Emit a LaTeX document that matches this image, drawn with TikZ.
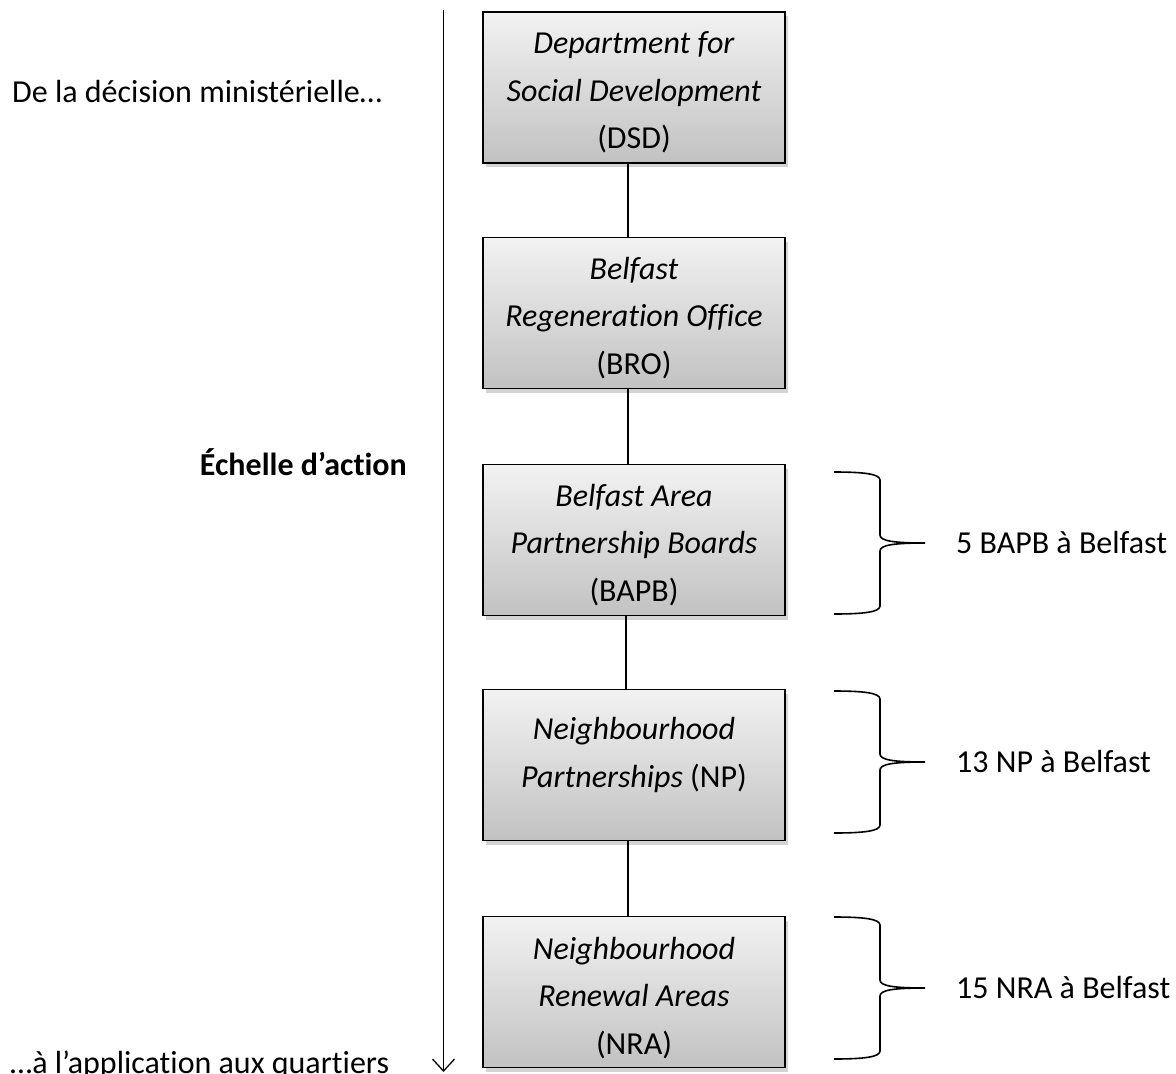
\documentclass[tikz,border=0pt]{standalone}
\usepackage{fontspec}
\setmainfont{Carlito}[Ligatures=NoCommon]
\usetikzlibrary{arrows.meta,shadows}
\begin{document}
\begin{tikzpicture}[x=1pt,y=-1pt,
  box/.style={draw=black, line width=1.8pt, minimum width=302pt, minimum height=151pt,
    inner sep=0pt, top color=white!95!black, bottom color=white!76!black,
    drop shadow={opacity=0.35, shadow xshift=3pt, shadow yshift=-4pt}},
  boxtext/.style={inner sep=0pt, align=center, font=\fontsize{32}{47.5}\selectfont},
  lbl/.style={font=\fontsize{32}{38}\selectfont, inner sep=0pt},
  link/.style={line width=1.6pt},
  bracepic/.pic={\draw[line width=1.6pt] (0,0) .. controls (30,0) and (46,2) .. (46,8) -- (46,63)
     .. controls (46,69) and (60,71) .. (91,71) .. controls (60,71) and (46,73) .. (46,79)
     -- (46,134) .. controls (46,140) and (30,142) .. (0,142);}
]
\useasboundingbox (0,0) rectangle (1176,1074);

% vertical arrow
\coordinate (atop) at (443.5,10);
\coordinate (abot) at (443.5,1072);
\draw[line width=1.3pt, -{Straight Barb[length=12pt,width=22pt]}] (atop) -- (abot);

% left labels
\node[lbl, anchor=base west] (ltop) at (12,102) {De la décision ministérielle…};
\node[lbl, anchor=base east, font=\fontsize{32}{38}\selectfont\bfseries] (lmid) at (407,475) {Échelle d’action};
\node[lbl, anchor=base west] (lbot) at (10,1073) {…à l’application aux quartiers};

% boxes
\node[box] (dsd) at (634,87.5) {};
\node[box] (bro) at (634,313) {};
\node[box] (bapb) at (634,540) {};
\node[box] (np) at (634,765) {};
\node[box] (nra) at (634,992) {};

\node[boxtext] (dsdt) at ([yshift=-5pt]dsd.center) {\textit{Department for}\\\textit{Social Development}\\(DSD)};
\node[boxtext] (brot) at ([yshift=-5pt]bro.center) {\textit{Belfast}\\\textit{Regeneration Office}\\(BRO)};
\node[boxtext] (bapbt) at ([yshift=-5pt]bapb.center) {\textit{Belfast Area}\\\textit{Partnership Boards}\\(BAPB)};
\node[boxtext] (npt) at ([yshift=10pt]np.center) {\textit{Neighbourhood}\\\textit{Partnerships} (NP)};
\node[boxtext] (nrat) at ([yshift=-6pt]nra.center) {\textit{Neighbourhood}\\\textit{Renewal Areas}\\(NRA)};

% connectors
\draw[link] ([xshift=-6pt]dsd.south) -- ([xshift=-6pt]bro.north);
\draw[link] ([xshift=-6pt]bro.south) -- ([xshift=-6pt]bapb.north);
\draw[link] ([xshift=-8pt]bapb.south) -- ([xshift=-8pt]np.north);
\draw[link] ([xshift=-6pt]np.south) -- ([xshift=-6pt]nra.north);

% braces
\pic at (834,472) {bracepic};
\pic at (834,691) {bracepic};
\pic at (834,917) {bracepic};

\node[lbl, anchor=base west] (t1) at (956,553) {5 BAPB à Belfast};
\node[lbl, anchor=base west] (t2) at (956,772) {13 NP à Belfast};
\node[lbl, anchor=base west] (t3) at (956,998) {15 NRA à Belfast};
\end{tikzpicture}
\end{document}
